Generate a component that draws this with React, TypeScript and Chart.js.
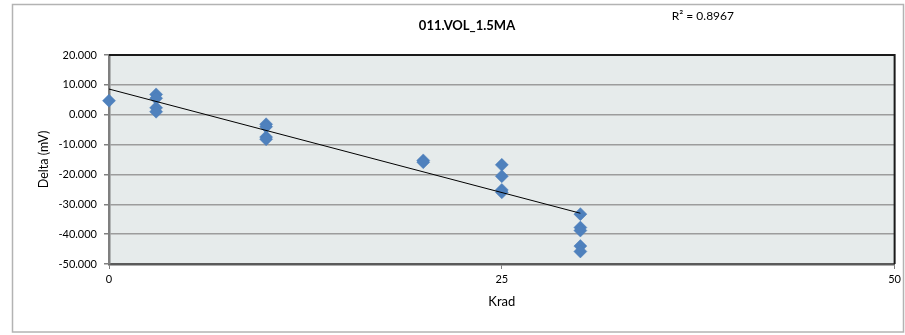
import React, { useEffect, useRef } from "react";
import { Chart, registerables } from "chart.js";

Chart.register(...registerables);

// Dose (krad) and delta voltage (mV) for each measured part
const kradDoses = [0, 3, 3, 3, 3, 10, 10, 10, 10, 20, 20, 25, 25, 25, 25, 30, 30, 30, 30, 30];
const deltaMv = [
  4.7, 6.8, 5.5, 2.3, 1.0, -3.2, -4.0, -7.5, -8.2, -15.3, -15.9, -16.8, -20.6, -25.2, -26.0,
  -33.3, -37.8, -38.8, -44.0, -45.8,
];

// Linear trend line endpoints
const trendX = [0, 30];
const trendY = [8.6, -33.0];
const rSquared = "0.8967";

const chartTitle = "011.VOL_1.5MA";
const xTitle = "Krad";
const yTitle = "Delta (mV)";
const xTicks = { min: 0, max: 50, step: 25 };
const yTicks = { min: -50, max: 20, step: 10 };

const FONT = "Lato, 'Open Sans', sans-serif";
const W = 905;
const H = 335;

const framePlugin = {
  id: "frame",
  beforeDraw(chart: any) {
    const { ctx, chartArea } = chart;
    ctx.save();
    ctx.fillStyle = "#ffffff";
    ctx.fillRect(0, 0, chart.width, chart.height);
    ctx.strokeStyle = "#b3b3b3";
    ctx.lineWidth = 1.5;
    ctx.strokeRect(12.5, 4.5, 891, 327.5);
    ctx.fillStyle = "#e6ebeb";
    ctx.fillRect(chartArea.left, chartArea.top, chartArea.right - chartArea.left, chartArea.bottom - chartArea.top);
    ctx.restore();
  },
  afterDraw(chart: any) {
    const { ctx, chartArea } = chart;
    ctx.save();
    ctx.strokeStyle = "#1a1a1a";
    ctx.lineWidth = 2;
    ctx.beginPath();
    ctx.moveTo(chartArea.left, chartArea.top);
    ctx.lineTo(chartArea.right, chartArea.top);
    ctx.lineTo(chartArea.right, chartArea.bottom);
    ctx.stroke();

    ctx.fillStyle = "#000000";
    ctx.textBaseline = "middle";
    ctx.textAlign = "center";
    ctx.font = `bold 13px ${FONT}`;
    ctx.fillText(chartTitle, 467, 26);

    // R² label of the trend line, top right
    ctx.textAlign = "right";
    ctx.font = `12px ${FONT}`;
    ctx.fillText(`R\u00B2 = ${rSquared}`, 734, 16);
    ctx.restore();
  },
};

export default function App() {
  const canvasRef = useRef<HTMLCanvasElement | null>(null);

  useEffect(() => {
    document.body.style.margin = "0";
    const canvas = canvasRef.current;
    if (!canvas) return;

    const points = kradDoses.map((x, i) => ({ x, y: deltaMv[i] }));
    const trend = trendX.map((x, i) => ({ x, y: trendY[i] }));

    const chart = new Chart(canvas, {
      type: "scatter",
      data: {
        datasets: [
          {
            data: trend,
            showLine: true,
            borderColor: "#000000",
            borderWidth: 1,
            pointRadius: 0,
            clip: false,
          },
          {
            data: points,
            pointStyle: "rectRot",
            pointRadius: 6.5,
            backgroundColor: "#4f81bd",
            borderColor: "#4a7cb8",
            borderWidth: 0.5,
            clip: false,
          },
        ],
      } as any,
      options: {
        responsive: false,
        animation: false,
        devicePixelRatio: 1,
        layout: { padding: { top: 55, right: 7, left: 0, bottom: 0 } },
        plugins: {
          legend: { display: false },
          tooltip: { enabled: false },
          title: { display: false },
        },
        scales: {
          x: {
            type: "linear",
            min: xTicks.min,
            max: xTicks.max,
            ticks: {
              stepSize: xTicks.step,
              padding: 4,
              color: "#000000",
              font: { family: FONT, size: 11 },
            },
            grid: {
              drawOnChartArea: false,
              drawTicks: true,
              tickLength: 5,
              tickColor: "#808080",
            },
            border: { display: true, color: "#5a5a5a", width: 2.5 },
            title: {
              display: true,
              text: xTitle,
              color: "#000000",
              font: { family: FONT, size: 13 },
              padding: { top: 0, bottom: 25 },
            },
            afterFit: (s: any) => {
              s.height = 71;
            },
          },
          y: {
            type: "linear",
            min: yTicks.min,
            max: yTicks.max,
            ticks: {
              stepSize: yTicks.step,
              padding: 7,
              color: "#000000",
              font: { family: FONT, size: 11 },
              callback: (v: any) => Number(v).toFixed(3),
            },
            grid: {
              color: "#9c9c9c",
              lineWidth: 1.5,
              tickLength: 5,
              tickColor: "#808080",
            },
            border: { display: true, color: "#7f7f7f", width: 2.5 },
            title: {
              display: true,
              text: yTitle,
              color: "#000000",
              font: { family: FONT, size: 12.5 },
              padding: { top: 36, bottom: 0 },
            },
            afterFit: (s: any) => {
              s.width = 109;
            },
          },
        },
      } as any,
      plugins: [framePlugin],
    });

    return () => chart.destroy();
  }, []);

  return (
    <div style={{ position: "relative", width: W, height: H }}>
      <canvas ref={canvasRef} width={W} height={H} style={{ display: "block" }} />
    </div>
  );
}
